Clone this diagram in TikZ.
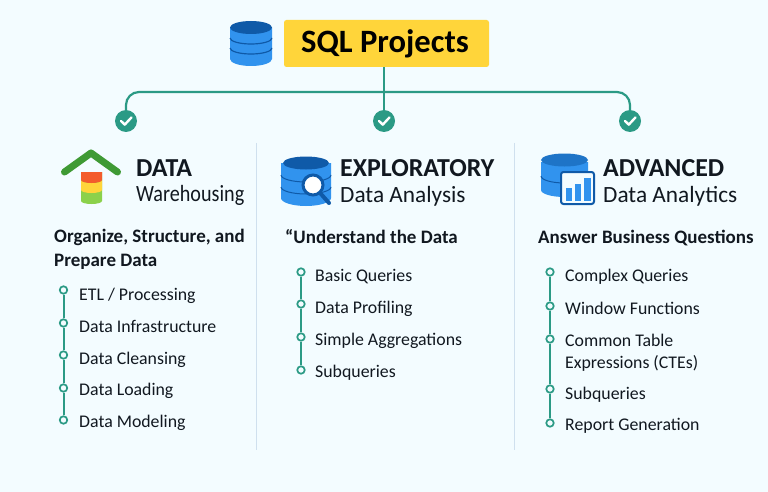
\documentclass[tikz,border=0pt]{standalone}
\usepackage{fontspec}
\setmainfont{Carlito}
\definecolor{bgc}{HTML}{F3FCFF}
\definecolor{teal1}{HTML}{2B9A85}
\definecolor{gold}{HTML}{FFD53A}
\definecolor{blue1}{HTML}{3193EE}
\definecolor{blue2}{HTML}{0F5AA8}
\definecolor{ink}{HTML}{111820}
\definecolor{rulec}{HTML}{CFE0EE}
\definecolor{roofg}{HTML}{3F9A34}
\definecolor{limeg}{HTML}{8BD14B}
\definecolor{redor}{HTML}{F35C2C}
\newcommand{\pxfont}[1]{\fontsize{#1}{#1}\selectfont}
\tikzset{
  x=1pt,y=-1pt,
  itemtext/.style={anchor=base west,inner sep=0pt,text=ink,font=\pxfont{17.8}},
  subhead/.style={anchor=base west,inner sep=0pt,text=ink,font=\pxfont{19}\bfseries},
  headbold/.style={anchor=base west,inner sep=0pt,text=ink,font=\pxfont{25.9}\bfseries},
  headreg/.style={anchor=base west,inner sep=0pt,text=ink,font=\pxfont{23.3}},
  dot/.style={circle,draw=teal1,line width=1.7pt,fill=bgc,minimum size=7.5pt,inner sep=0pt},
  vline/.style={draw=teal1,line width=2pt},
  conn/.style={draw=teal1,line width=2.2pt,rounded corners=13pt},
  checkn/.style={circle,fill=teal1,minimum size=22pt,inner sep=0pt},
  divider/.style={draw=rulec,line width=1pt},
}
\begin{document}
\begin{tikzpicture}
\useasboundingbox (0,0) rectangle (768,492);
\fill[bgc] (0,0) rectangle (768,492);
% title
\node[fill=gold,rounded corners=2.5pt,minimum width=205pt,minimum height=47pt,inner sep=0pt,text=black,font=\pxfont{32.6}\bfseries] (title) at (386.5,43.5) {\kern-3pt SQL Projects};
% check nodes
\node[checkn] (c1) at (126,121) {};
\node[checkn] (c2) at (384,121) {};
\node[checkn] (c3) at (630,121) {};
\coordinate (b) at (title.south -| c2);
\coordinate (h1) at (126,92);
\coordinate (h3) at (630,92);
\draw[conn] (c1) -- (h1) -- (h3) -- (c3);
\draw[draw=teal1,line width=2.2pt] (b) -- (c2);
\foreach \c in {c1,c2,c3}{
  \draw[white,line width=2.4pt,line cap=round,line join=round] ([xshift=-5pt,yshift=0pt]\c.center) -- ([xshift=-1.2pt,yshift=-3.6pt]\c.center) -- ([xshift=5.5pt,yshift=3.6pt]\c.center);
}
% dividers
\draw[divider] (256.5,143) -- (256.5,450);
\draw[divider] (514,143) -- (514,450);
% top DB icon
\fill[blue1] (230,28) -- (230,59) arc[start angle=180,end angle=0,x radius=21,y radius=7] -- (272,28) -- cycle;
\fill[blue2] (251,27.5) ellipse[x radius=21,y radius=6.5];
\draw[blue2,line width=1.2pt] (230,38) arc[start angle=180,end angle=0,x radius=21,y radius=6];
\draw[blue2,line width=1.2pt] (230,48) arc[start angle=180,end angle=0,x radius=21,y radius=6];
% house icon
\draw[roofg,line width=7pt,line cap=round,line join=round] (64.5,172) -- (91,153) -- (117.5,172);
\fill[limeg] (81,172) -- (81,201) arc[start angle=180,end angle=0,x radius=10.5,y radius=3] -- (102,172) -- cycle;
\fill[gold] (81,180) arc[start angle=180,end angle=0,x radius=10.5,y radius=3] -- (102,190) arc[start angle=0,end angle=180,x radius=10.5,y radius=3] -- cycle;
\fill[redor] (81,172) -- (102,172) -- (102,180) arc[start angle=0,end angle=180,x radius=10.5,y radius=3] -- cycle;
% explore icon
\fill[blue1] (281,163) -- (281,198) arc[start angle=180,end angle=0,x radius=25,y radius=8] -- (331,163) -- cycle;
\fill[blue2] (306,163) ellipse[x radius=23,y radius=6.5];
\draw[blue2,line width=1pt] (281,175) arc[start angle=180,end angle=0,x radius=25,y radius=7];
\draw[blue2,line width=1pt] (281,187) arc[start angle=180,end angle=0,x radius=25,y radius=7];
\draw[blue2,line width=4pt,line cap=round] (321,194) -- (329,203);
\draw[blue2,line width=3pt,fill=white] (313,185) circle[radius=10];
% advanced icon
\fill[blue1] (541,162) -- (541,190) arc[start angle=180,end angle=0,x radius=23.5,y radius=7] -- (588,162) -- cycle;
\fill[blue2!55!blue1] (564.5,160) ellipse[x radius=23.5,y radius=6.5];
\draw[blue2,line width=1pt] (541,176) arc[start angle=180,end angle=0,x radius=23.5,y radius=7];
\draw[blue2,line width=2pt,fill=bgc,rounded corners=2.5pt] (561,172) rectangle (594,204);
\fill[blue1] (565.5,188) rectangle (572,200.5);
\fill[blue1] (574.5,184) rectangle (581,200.5);
\fill[blue1] (584,178) rectangle (590.5,200.5);
% column 1
\node[headbold] (t1) at (136,176) {DATA};
\node[headreg] (s1) at (136,201) {\scalebox{0.865}[1]{Warehousing}};
\node[subhead] (q1a) at (54,242) {Organize, Structure, and};
\node[subhead] (q1b) at (54,266) {Prepare Data};
\node[dot] (a1) at (63.5,290) {};
\node[dot] (a2) at (63.5,323) {};
\node[dot] (a3) at (63.5,355) {};
\node[dot] (a4) at (63.5,388) {};
\node[dot] (a5) at (63.5,420) {};
\draw[vline] (a1) -- (a2);\draw[vline] (a2) -- (a3);\draw[vline] (a3) -- (a4);\draw[vline] (a4) -- (a5);
\node[itemtext] at (79,300.5) {ETL / Processing};
\node[itemtext] at (79,332) {Data Infrastructure};
\node[itemtext] at (79,364) {Data Cleansing};
\node[itemtext] at (79,395.5) {Data Loading};
\node[itemtext] at (79,427) {Data Modeling};
% column 2
\node[headbold] (t2) at (340,176) {EXPLORATORY};
\node[headreg] (s2) at (340,202) {Data Analysis};
\node[subhead] (q2) at (285,243) {“Understand the Data};
\node[dot] (b1) at (301,272) {};
\node[dot] (b2) at (301,304) {};
\node[dot] (b3) at (301,337) {};
\node[dot] (b4) at (301,370) {};
\draw[vline] (b1) -- (b2);\draw[vline] (b2) -- (b3);\draw[vline] (b3) -- (b4);
\node[itemtext] at (315,281.5) {Basic Queries};
\node[itemtext] at (315,313) {Data Profiling};
\node[itemtext] at (315,345.5) {Simple Aggregations};
\node[itemtext] at (315,377.5) {Subqueries};
% column 3
\node[headbold] (t3) at (603,176) {ADVANCED};
\node[headreg] (s3) at (603,202) {Data Analytics};
\node[subhead] (q3) at (538,243) {Answer Business Questions};
\node[dot] (d1) at (550,272) {};
\node[dot] (d2) at (550,306) {};
\node[dot] (d3) at (550,339) {};
\node[dot] (d4) at (550,389) {};
\node[dot] (d5) at (550,423) {};
\draw[vline] (d1) -- (d2);\draw[vline] (d2) -- (d3);\draw[vline] (d3) -- (d4);\draw[vline] (d4) -- (d5);
\node[itemtext] at (565,281.5) {Complex Queries};
\node[itemtext] at (565,314.5) {Window Functions};
\node[itemtext] at (565,346) {Common Table};
\node[itemtext] at (565,368) {Expressions (CTEs)};
\node[itemtext] at (565,399) {Subqueries};
\node[itemtext] at (565,430) {Report Generation};
\end{tikzpicture}
\end{document}
